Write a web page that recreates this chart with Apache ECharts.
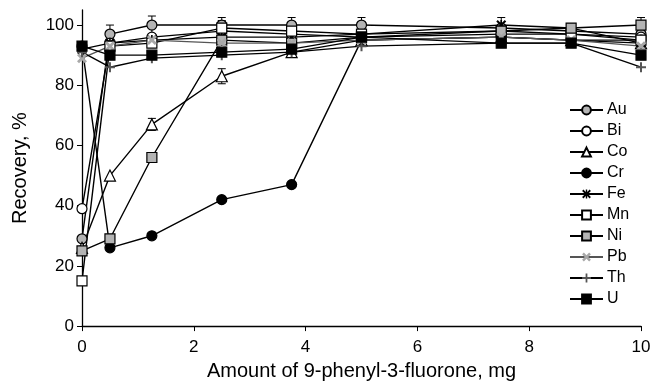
<!DOCTYPE html>
<html>
<head>
<meta charset="utf-8">
<script src="https://cdn.jsdelivr.net/npm/echarts@6/dist/echarts.min.js"></script>
<style>html,body{margin:0;padding:0;background:#fff}#c{width:657px;height:386px}</style>
</head>
<body>
<div id="c"></div>
<script>
// Amount of 9-phenyl-3-fluorone, mg
const xs = [0, 0.5, 1.25, 2.5, 3.75, 5, 7.5, 8.75, 10];
const names = ['Au', 'Bi', 'Co', 'Cr', 'Fe', 'Mn', 'Ni', 'Pb', 'Th', 'U'];
const Au = [29, 97, 100, 100, 100, 100, 99, 98, 97];
const Bi = [39, 94, 96, 98, 97, 96, 97, 97, 96];
const Co = [26, 50, 67, 83, 91, 95, 96, 95, 94];
const Cr = [93, 26, 30, 42, 47, 95, 96, 95, 95];
const Fe = [92, 94, 95, 96, 96, 97, 100, 99, 94];
const Mn = [15, 93, 94, 99, 98, 97, 98, 97, 95];
const Ni = [25, 29, 56, 95, 94, 96, 98, 99, 100];
const Pb = [89, 93, 95, 94, 94, 95, 96, 95, 93];
const Th = [91, 86, 89, 90, 91, 93, 94, 94, 86];
const U  = [93, 90, 90, 91, 92, 96, 94, 94, 90];
// error bar half-widths (0 = none drawn)
const errAu = [0, 3, 3, 2.5, 2.5, 2.5, 0, 0, 0];
const errCo = [0, 0, 2, 2.5, 0, 0, 0, 0, 0];
const errMn = [0, 0, 0, 2.5, 2.5, 0, 0, 0, 0];
const errFe = [0, 0, 0, 0, 0, 0, 2.5, 1.5, 0];
const errNi = [0, 0, 0, 0, 0, 0, 0, 0, 2.5];
const yTicks = [0, 20, 40, 60, 80, 100];

const values = {Au, Bi, Co, Cr, Fe, Mn, Ni, Pb, Th, U};
const GREY = '#b4b4b4';
const X_PATH = 'path://M0,2 L2,0 L5,3 L8,0 L10,2 L7,5 L10,8 L8,10 L5,7 L2,10 L0,8 L3,5 Z';
const PLUS_PATH = 'path://M4,0 L6,0 L6,4 L10,4 L10,6 L6,6 L6,10 L4,10 L4,6 L0,6 L0,4 L4,4 Z';
const AST_PATH = 'path://M0,1.5 L1.5,0 L5,3.5 L8.5,0 L10,1.5 L6.5,5 L10,8.5 L8.5,10 L5,6.5 L1.5,10 L0,8.5 L3.5,5 Z M4.2,0 L5.8,0 L5.8,10 L4.2,10 Z';

const styles = {
  Au: {symbol: 'circle', size: 10, fill: GREY},
  Bi: {symbol: 'circle', size: 10, fill: '#fff'},
  Co: {symbol: 'triangle', size: 11, fill: '#fff'},
  Cr: {symbol: 'circle', size: 10, fill: '#000'},
  Fe: {symbol: AST_PATH, size: 10, fill: '#000', path: true},
  Mn: {symbol: 'rect', size: 10, fill: '#fff'},
  Ni: {symbol: 'rect', size: 10, fill: GREY},
  Pb: {symbol: X_PATH, size: 10, fill: '#a8a8a8', path: true},
  Th: {symbol: PLUS_PATH, size: 10, fill: '#555', path: true},
  U:  {symbol: 'rect', size: 10, fill: '#000'}
};

const errs = [];
[[Au, errAu], [Co, errCo], [Mn, errMn], [Fe, errFe], [Ni, errNi]].forEach(([v, e]) => {
  e.forEach((d, i) => { if (d > 0) errs.push([xs[i], v[i], d]); });
});

const series = [{
  type: 'custom',
  name: 'err',
  z: 1,
  silent: true,
  renderItem: function (params, api) {
    const x = api.value(0), y = api.value(1), e = api.value(2);
    const top = api.coord([x, y + e]);
    const bot = api.coord([x, y - e]);
    const w = 4;
    const st = {stroke: '#000', lineWidth: 1};
    return {type: 'group', children: [
      {type: 'line', shape: {x1: top[0], y1: top[1], x2: bot[0], y2: bot[1]}, style: st},
      {type: 'line', shape: {x1: top[0] - w, y1: top[1], x2: top[0] + w, y2: top[1]}, style: st},
      {type: 'line', shape: {x1: bot[0] - w, y1: bot[1], x2: bot[0] + w, y2: bot[1]}, style: st}
    ]};
  },
  data: errs
}];
names.forEach(n => {
  const s = styles[n];
  series.push({
    type: 'line',
    name: n,
    z: 2,
    data: xs.map((x, i) => [x, values[n][i]]),
    symbol: s.symbol,
    symbolSize: s.size,
    showAllSymbol: true,
    lineStyle: {color: n === 'Pb' ? '#555' : '#000', width: 1.4},
    itemStyle: s.path ? {color: s.fill, borderWidth: 0} : {color: s.fill, borderColor: '#000', borderWidth: 1.2},
    emphasis: {disabled: true},
    animation: false
  });
});

const chart = echarts.init(document.getElementById('c'), null, {renderer: 'canvas'});
chart.setOption({
  animation: false,
  backgroundColor: '#fff',
  textStyle: {fontFamily: 'Liberation Sans, Arial, sans-serif'},
  grid: {left: 82, right: 16, top: 10, bottom: 58, containLabel: false},
  xAxis: {
    type: 'value', min: 0, max: 10, interval: 2,
    name: 'Amount of 9-phenyl-3-fluorone, mg',
    nameLocation: 'middle', nameGap: 31,
    nameTextStyle: {fontSize: 20, color: '#000'},
    axisLine: {show: true, lineStyle: {color: '#000', width: 1.3}},
    axisTick: {show: true, length: 5, lineStyle: {color: '#000'}},
    axisLabel: {fontSize: 17, color: '#000', margin: 13},
    splitLine: {show: false}
  },
  yAxis: {
    type: 'value', min: 0, max: 105,
    name: 'Recovery, %',
    nameLocation: 'middle', nameGap: 52,
    nameTextStyle: {fontSize: 20, color: '#000'},
    axisLine: {show: true, lineStyle: {color: '#000', width: 1.3}},
    axisTick: {show: true, length: 5, customValues: yTicks, lineStyle: {color: '#000'}},
    axisLabel: {fontSize: 17, color: '#000', margin: 8, customValues: yTicks},
    splitLine: {show: false}
  },
  legend: {
    data: names,
    orient: 'vertical',
    left: 564, top: 97,
    itemWidth: 33, itemHeight: 11, itemGap: 5,
    textStyle: {fontSize: 16, lineHeight: 15, color: '#000', padding: [0, 0, 0, -1]},
    selectedMode: false
  },
  series: series
});
</script>
</body>
</html>
